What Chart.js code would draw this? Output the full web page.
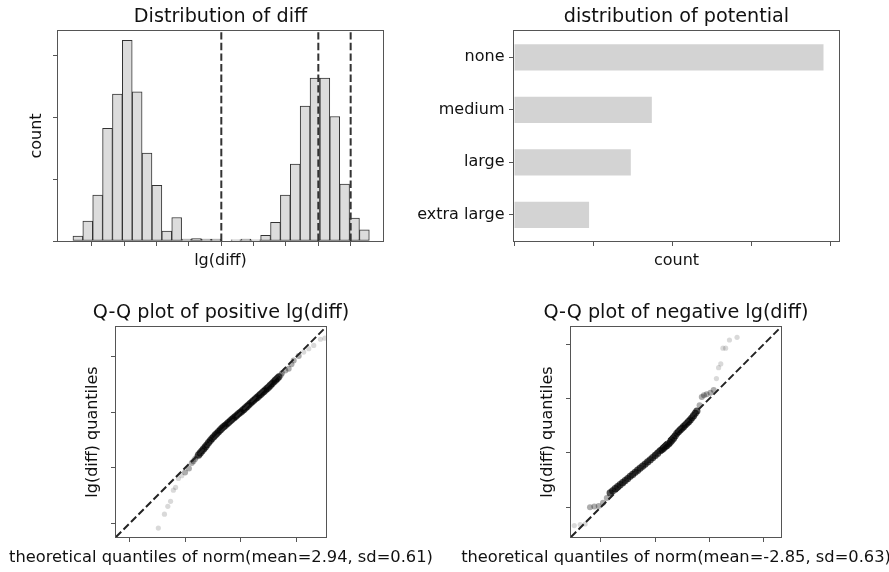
<!DOCTYPE html>
<html><head><meta charset="utf-8">
<script src="https://cdn.jsdelivr.net/npm/chart.js@4.4.1/dist/chart.umd.min.js"></script>
<style>
html,body{margin:0;padding:0;width:889px;height:572px;overflow:hidden;background:#fff;}
canvas{position:absolute;}
</style></head><body>
<canvas id="c1" width="400" height="286" style="left:0px;top:0px"></canvas>
<canvas id="c2" width="489" height="286" style="left:400px;top:0px"></canvas>
<canvas id="c3" width="442" height="286" style="left:0px;top:286px"></canvas>
<canvas id="c4" width="472" height="286" style="left:440px;top:286px"></canvas>
<script>
// ---------- data ----------
const diffBinCenters = [-4.435, -4.130, -3.824, -3.519, -3.213, -2.908, -2.602, -2.297, -1.991, -1.686,
  -1.380, -1.075, -0.769, -0.464, -0.158, 0.147, 0.453, 0.758, 1.064, 1.369,
  1.675, 1.980, 2.286, 2.591, 2.897, 3.202, 3.508, 3.813, 4.119, 4.424];
const diffCounts = [8, 32, 74, 182, 237, 324, 241, 142, 90, 16,
  38, 3, 4, 3, 3, null, 2, 3, 2, 9,
  30, 74, 124, 218, 263, 263, 201, 92, 37, 18];
const diffVLines = [0, 3, 4];
const diffXRange = [-5.05, 5.0];
const diffYMax = 339;
const diffXTicks = [-4, -3, -2, -1, 0, 1, 2, 3, 4];
const diffYTicks = [0, 100, 200, 300];

const potentialLabels = ['none', 'medium', 'large', 'extra large'];
const potentialCounts = [3916, 1744, 1478, 950];
const potentialXMax = 4112;
const potentialXTicks = [0, 1000, 2000, 3000, 4000];

const qqPosLimits = [0.76, 4.53];
const qqPosTicks = [1, 2, 3, 4];
const qqPosLight = [
  {x:1.52,y:0.92},{x:1.63,y:1.17},{x:1.69,y:1.31},{x:1.74,y:1.40},{x:1.79,y:1.60},{x:1.83,y:1.65},
  {x:1.88,y:1.81},{x:1.94,y:1.86},
  {x:4.13,y:4.08},{x:4.22,y:4.14},{x:4.31,y:4.20},{x:4.43,y:4.31},{x:4.51,y:4.33}];
const qqPosMid = [
  {x:2.00,y:1.92},{x:2.07,y:1.99},{x:2.12,y:2.09},{x:2.15,y:2.12},{x:2.18,y:2.16},{x:2.21,y:2.20},
  {x:3.72,y:3.67},{x:3.74,y:3.70},{x:3.80,y:3.75},{x:3.86,y:3.78},{x:3.91,y:3.86},{x:3.95,y:3.93},{x:4.04,y:4.01}];
const qqPosCore = [
  {x:2.243,y:2.234},{x:2.273,y:2.270},{x:2.303,y:2.305},{x:2.333,y:2.341},{x:2.363,y:2.377},
  {x:2.393,y:2.416},{x:2.423,y:2.455},{x:2.453,y:2.491},{x:2.483,y:2.527},{x:2.513,y:2.560},
  {x:2.543,y:2.593},{x:2.573,y:2.623},{x:2.603,y:2.653},{x:2.633,y:2.683},{x:2.663,y:2.713},
  {x:2.693,y:2.740},{x:2.723,y:2.766},{x:2.753,y:2.793},{x:2.783,y:2.820},{x:2.813,y:2.847},
  {x:2.843,y:2.874},{x:2.873,y:2.898},{x:2.903,y:2.922},{x:2.933,y:2.949},{x:2.963,y:2.976},
  {x:2.993,y:3.000},{x:3.023,y:3.024},{x:3.053,y:3.051},{x:3.083,y:3.078},{x:3.113,y:3.105},
  {x:3.143,y:3.132},{x:3.173,y:3.159},{x:3.203,y:3.186},{x:3.233,y:3.213},{x:3.263,y:3.240},
  {x:3.293,y:3.266},{x:3.323,y:3.293},{x:3.353,y:3.320},{x:3.383,y:3.347},{x:3.413,y:3.374},
  {x:3.443,y:3.401},{x:3.473,y:3.428},{x:3.503,y:3.455},{x:3.533,y:3.485},{x:3.563,y:3.515},
  {x:3.593,y:3.545},{x:3.623,y:3.575},{x:3.653,y:3.605},{x:3.683,y:3.635}];

const qqNegLimits = [-4.55, -0.68];
const qqNegTicks = [-4, -3, -2, -1];
const qqNegLight = [
  {x:-4.49,y:-4.34},{x:-4.38,y:-4.32},{x:-4.29,y:-4.31},
  {x:-1.87,y:-1.63},{x:-1.83,y:-1.43},{x:-1.79,y:-1.36},{x:-1.75,y:-1.07},{x:-1.70,y:-1.07},
  {x:-1.63,y:-0.92},{x:-1.49,y:-0.87}];
const qqNegMid = [
  {x:-4.20,y:-4.00},{x:-4.12,y:-3.99},{x:-4.04,y:-3.98},{x:-3.96,y:-3.92},{x:-3.89,y:-3.83},
  {x:-2.18,y:-2.12},{x:-2.14,y:-1.97},{x:-2.10,y:-1.94},{x:-2.05,y:-1.92},{x:-1.98,y:-1.89},{x:-1.92,y:-1.84}];
const qqNegCore = [
  {x:-3.828,y:-3.737},{x:-3.782,y:-3.698},{x:-3.736,y:-3.658},{x:-3.690,y:-3.622},{x:-3.644,y:-3.585},
  {x:-3.598,y:-3.548},{x:-3.551,y:-3.511},{x:-3.505,y:-3.472},{x:-3.459,y:-3.432},{x:-3.413,y:-3.396},
  {x:-3.367,y:-3.359},{x:-3.321,y:-3.319},{x:-3.275,y:-3.279},{x:-3.229,y:-3.243},{x:-3.183,y:-3.206},
  {x:-3.137,y:-3.166},{x:-3.090,y:-3.126},{x:-3.044,y:-3.087},{x:-2.998,y:-3.047},{x:-2.952,y:-3.005},
  {x:-2.906,y:-2.962},{x:-2.875,y:-2.938},{x:-2.845,y:-2.913},{x:-2.814,y:-2.889},{x:-2.783,y:-2.864},
  {x:-2.752,y:-2.834},{x:-2.722,y:-2.803},{x:-2.691,y:-2.766},{x:-2.660,y:-2.729},{x:-2.630,y:-2.684},
  {x:-2.599,y:-2.638},{x:-2.568,y:-2.608},{x:-2.537,y:-2.577},{x:-2.506,y:-2.547},{x:-2.476,y:-2.516},
  {x:-2.445,y:-2.486},{x:-2.414,y:-2.455},{x:-2.384,y:-2.424},{x:-2.353,y:-2.393},{x:-2.322,y:-2.354},
  {x:-2.291,y:-2.314},{x:-2.260,y:-2.271},{x:-2.230,y:-2.228}];

// ---------- style ----------
const FONT = 'DejaVu Sans';
const TXT = '#111111';
const LINE = '#555555';
const DASH = '#333333';
const fnt = (size) => ({family: FONT, size: size, lineHeight: 1.2, weight: 'normal'});
const fixedTicks = (arr) => (s) => { s.ticks = arr.map(v => ({value: v})); };
const tickGrid = () => ({display: true, drawOnChartArea: false, drawTicks: true, tickLength: 5,
  tickColor: LINE, tickWidth: 1, offset: false});

const framePlugin = {
  id: 'frame',
  afterDatasetsDraw(chart) {
    const a = chart.chartArea, ctx = chart.ctx;
    ctx.save();
    ctx.strokeStyle = LINE; ctx.lineWidth = 1;
    const l = Math.round(a.left) - 0.5, t = Math.round(a.top) - 0.5;
    const r = Math.round(a.right) + 0.5, b = Math.round(a.bottom) + 0.5;
    ctx.strokeRect(l, t, r - l, b - t);
    ctx.restore();
  }
};

const base = {
  responsive: false, animation: false, devicePixelRatio: 1, events: [],
};
const noLegend = {legend: {display: false}, tooltip: {enabled: false}};

// ---------- panel 1: histogram ----------
new Chart(document.getElementById('c1'), {
  type: 'bar',
  data: {
    datasets: [
      {type: 'bar', order: 2, data: diffBinCenters.map((c, i) => ({x: c, y: diffCounts[i]})),
       backgroundColor: '#dcdcdc', borderColor: '#333333', borderWidth: 1, borderSkipped: false,
       barPercentage: 1, categoryPercentage: 1},
      ...diffVLines.map(v => ({type: 'line', order: 1, data: [{x: v, y: 0}, {x: v, y: diffYMax}],
        borderColor: DASH, borderWidth: 2, borderDash: [7.4, 3.2], pointRadius: 0, fill: false}))
    ]
  },
  options: Object.assign({}, base, {
    layout: {padding: {left: 0, right: 17, top: 0, bottom: 0}},
    plugins: Object.assign({}, noLegend, {
      title: {display: true, text: 'Distribution of diff', font: fnt(19.2), color: TXT, fullSize: false,
        padding: {top: 5.2, bottom: 2.76}}
    }),
    scales: {
      x: {type: 'linear', min: diffXRange[0], max: diffXRange[1], offset: false,
        afterBuildTicks: fixedTicks(diffXTicks), afterFit: s => { s.height = 45; },
        grid: tickGrid(), border: {display: false}, ticks: {display: false},
        title: {display: true, text: 'lg(diff)', font: fnt(16), color: TXT, padding: {top: 0, bottom: 15.4}}},
      y: {type: 'linear', min: 0, max: diffYMax,
        afterBuildTicks: fixedTicks(diffYTicks), afterFit: s => { s.width = 58; },
        grid: tickGrid(), border: {display: false}, ticks: {display: false},
        title: {display: true, text: 'count', font: fnt(16), color: TXT, padding: {top: 27.4, bottom: 0}}}
    }
  }),
  plugins: [framePlugin]
});

// ---------- panel 2: horizontal bars ----------
new Chart(document.getElementById('c2'), {
  type: 'bar',
  data: {
    labels: potentialLabels,
    datasets: [{data: potentialCounts, backgroundColor: '#d3d3d3', borderWidth: 0,
      barPercentage: 0.5, categoryPercentage: 1}]
  },
  options: Object.assign({}, base, {
    indexAxis: 'y',
    layout: {padding: {left: 0, right: 50, top: 0, bottom: 0}},
    plugins: Object.assign({}, noLegend, {
      title: {display: true, text: 'distribution of potential', font: fnt(19.2), color: TXT, fullSize: false,
        padding: {top: 5.2, bottom: 2.76}}
    }),
    scales: {
      x: {type: 'linear', min: 0, max: potentialXMax,
        afterBuildTicks: fixedTicks(potentialXTicks), afterFit: s => { s.height = 45; },
        grid: tickGrid(), border: {display: false}, ticks: {display: false},
        title: {display: true, text: 'count', font: fnt(16), color: TXT, padding: {top: 0, bottom: 15.4}}},
      y: {type: 'category', offset: true, afterFit: s => { s.width = 114; },
        grid: tickGrid(), border: {display: false},
        ticks: {display: true, font: fnt(16), color: TXT, padding: 4.5}}
    }
  }),
  plugins: [framePlugin]
});

// ---------- panels 3 & 4: Q-Q plots ----------
function qqChart(id, title, xlabel, lim, ticks, light, mid, core, sideW, ylabPad) {
  new Chart(document.getElementById(id), {
    type: 'scatter',
    data: {
      datasets: [
        {order: 0, data: [{x: lim[0], y: lim[0]}, {x: lim[1], y: lim[1]}], showLine: true,
         borderColor: '#222222', borderWidth: 2, borderDash: [7.4, 3.2], pointRadius: 0},
        {order: 3, data: light, pointRadius: 2.6, pointBorderWidth: 0, backgroundColor: 'rgba(0,0,0,0.15)'},
        {order: 2, data: mid, pointRadius: 3.0, pointBorderWidth: 0, backgroundColor: 'rgba(0,0,0,0.32)'},
        {order: 1, data: core, pointRadius: 3.6, pointBorderWidth: 0, backgroundColor: 'rgba(0,0,0,0.68)'}
      ]
    },
    options: Object.assign({}, base, {
      layout: {padding: 0},
      plugins: Object.assign({}, noLegend, {
        title: {display: true, text: title, font: fnt(19.2), color: TXT, fullSize: true,
          padding: {top: 15.9, bottom: 2.06}},
        subtitle: {display: true, position: 'bottom', text: xlabel, font: fnt(16.3), color: TXT, fullSize: true,
          padding: {top: 5.0, bottom: 4.44}}
      }),
      scales: {
        x: {type: 'linear', min: lim[0], max: lim[1],
          afterBuildTicks: fixedTicks(ticks), afterFit: s => { s.height = 6; },
          grid: tickGrid(), border: {display: false}, ticks: {display: false}},
        y: {type: 'linear', position: 'left', min: lim[0], max: lim[1],
          afterBuildTicks: fixedTicks(ticks), afterFit: s => { s.width = sideW; },
          grid: tickGrid(), border: {display: false}, ticks: {display: false},
          title: {display: true, text: 'lg(diff) quantiles', font: fnt(16), color: TXT,
            padding: {top: ylabPad, bottom: 0}}},
        yRight: {type: 'linear', position: 'right', display: true, afterFit: s => { s.width = sideW; },
          grid: {display: false}, border: {display: false}, ticks: {display: false}}
      }
    }),
    plugins: [framePlugin]
  });
}
qqChart('c3', 'Q-Q plot of positive lg(diff)', 'theoretical quantiles of norm(mean=2.94, sd=0.61)',
  qqPosLimits, qqPosTicks, qqPosLight, qqPosMid, qqPosCore, 116, 82.8);
qqChart('c4', 'Q-Q plot of negative lg(diff)', 'theoretical quantiles of norm(mean=-2.85, sd=0.63)',
  qqNegLimits, qqNegTicks, qqNegLight, qqNegMid, qqNegCore, 131, 98.4);
</script>
</body></html>
